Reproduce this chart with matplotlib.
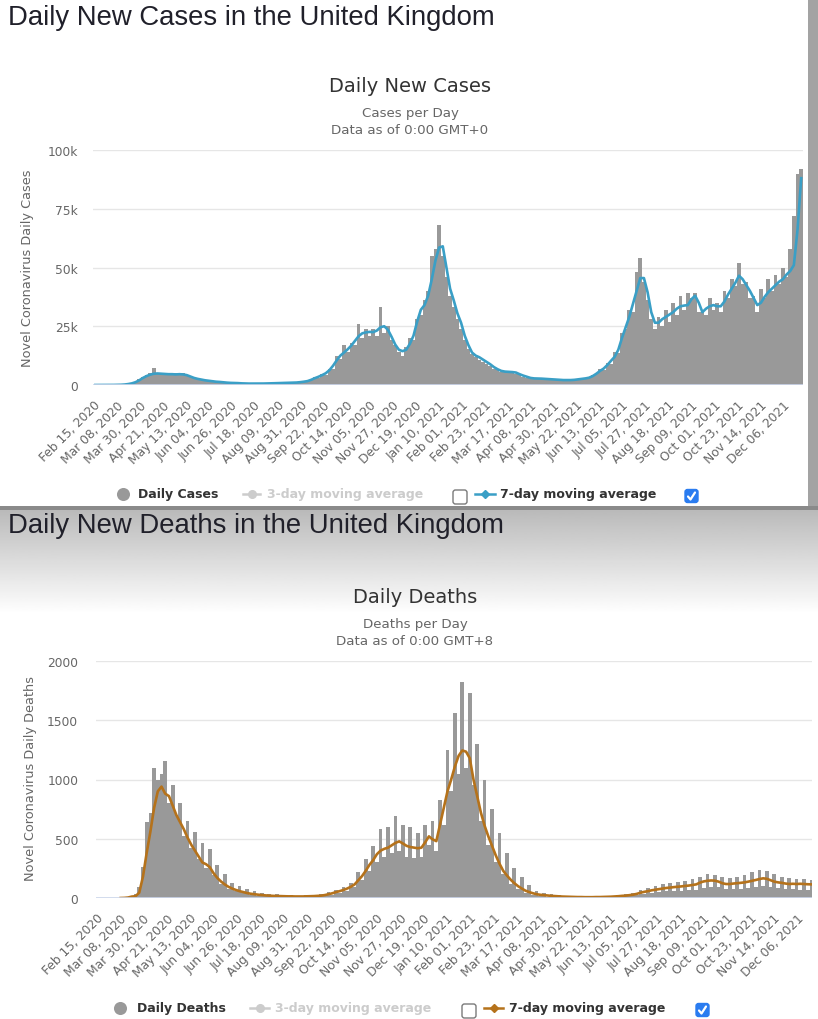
import numpy as np
import pandas as pd
import matplotlib
matplotlib.use("Agg")
import matplotlib.pyplot as plt
from matplotlib.patches import FancyBboxPatch, Rectangle

# ---- data (one value per half-week) ----
cases_start = "2020-02-15"
# daily new cases (thousands), half-week samples
daily_cases = [
    0, 0, 0, 0.01, 0.02, 0.04, 0.06, 0.12, 0.25, 0.5,
    0.8, 1.4, 2.4, 3.3, 4.2, 4.9, 7.4, 5.0, 5.3, 4.5,
    5.0, 4.3, 4.9, 4.2, 4.9, 4.4, 3.5, 2.9, 2.8, 2.2,
    2.1, 1.7, 1.7, 1.3, 1.4, 1.05, 1.1, 0.8, 0.95, 0.7,
    0.8, 0.6, 0.7, 0.55, 0.7, 0.55, 0.7, 0.6, 0.8, 0.7,
    0.9, 0.8, 1.0, 0.9, 1.1, 1.0, 1.35, 1.3, 1.9, 2.1,
    3.2, 3.0, 4.5, 4.2, 6.9, 7.0, 12.5, 11.0, 17.0, 14.0,
    18.0, 17.0, 26.0, 20.0, 24.0, 21.0, 24.0, 21.0, 33.0, 22.0,
    25.0, 19.0, 17.0, 14.0, 12.5, 16.0, 20.0, 19.0, 28.0, 30.0,
    36.0, 40.0, 55.0, 58.0, 68.0, 55.0, 46.0, 38.0, 33.0, 28.0,
    24.0, 19.0, 15.5, 13.0, 12.0, 10.5, 10.0, 9.0, 8.0, 6.8,
    6.2, 5.5, 6.1, 5.3, 5.9, 4.6, 4.3, 3.4, 3.1, 2.6,
    2.9, 2.5, 2.8, 2.3, 2.6, 2.1, 2.3, 2.0, 2.2, 2.0,
    2.3, 2.1, 2.6, 2.4, 3.1, 2.9, 4.2, 4.7, 6.8, 6.5,
    9.3, 9.0, 14.0, 13.5, 22.0, 24.0, 32.0, 31.0, 48.0, 54.0,
    44.0, 36.0, 28.0, 24.0, 29.0, 25.0, 32.0, 27.0, 35.0, 30.0,
    38.0, 32.0, 39.0, 37.0, 39.0, 31.0, 32.0, 30.0, 37.0, 32.0,
    35.0, 31.0, 40.0, 37.0, 45.0, 42.0, 52.0, 43.0, 44.0, 37.0,
    38.0, 31.0, 41.0, 37.0, 45.0, 40.0, 47.0, 43.0, 50.0, 46.0,
    58.0, 72.0, 90.0, 92.0,
]
# 7-day moving average of cases (thousands)
cases_avg7 = [
    0, 0, 0, 0.01, 0.02, 0.03, 0.05, 0.1, 0.2, 0.4,
    0.7, 1.2, 2.0, 3.0, 3.8, 4.4, 4.8, 4.9, 4.8, 4.7,
    4.6, 4.6, 4.5, 4.6, 4.5, 4.2, 3.6, 3.0, 2.6, 2.3,
    2.0, 1.8, 1.6, 1.4, 1.3, 1.15, 1.0, 0.9, 0.85, 0.8,
    0.7, 0.65, 0.6, 0.6, 0.6, 0.6, 0.62, 0.65, 0.7, 0.75,
    0.8, 0.85, 0.9, 0.95, 1.0, 1.05, 1.2, 1.4, 1.65, 2.2,
    2.9, 3.5, 4.2, 5.0, 6.3, 8.2, 10.5, 12.5, 13.8, 15.2,
    16.8, 18.8, 20.8, 22.0, 22.4, 22.6, 22.5, 23.2, 24.6, 25.0,
    23.5, 20.5, 17.2, 15.0, 14.4, 15.0, 17.5, 21.0, 27.0, 32.0,
    34.0, 38.0, 45.0, 53.0, 58.5, 59.0, 50.0, 41.0, 36.0, 30.5,
    26.5, 21.0, 17.0, 13.8, 12.5, 11.8, 10.8, 9.8, 8.8, 7.6,
    6.7, 6.0, 5.7, 5.6, 5.5, 5.3, 4.6, 4.0, 3.5, 3.0,
    2.8, 2.75, 2.7, 2.6, 2.5, 2.4, 2.3, 2.2, 2.1, 2.1,
    2.1, 2.2, 2.4, 2.6, 2.8, 3.1, 3.8, 4.8, 6.0, 7.0,
    8.5, 10.3, 12.0, 15.0, 20.0, 24.5, 29.0, 34.5, 40.0, 45.5,
    45.5, 39.5, 31.0, 26.5, 26.5, 28.0, 29.0, 30.0, 31.0, 32.5,
    33.5, 33.8, 34.0, 36.5, 38.0, 35.0, 31.0, 32.5, 33.5, 34.0,
    33.5, 33.5, 35.5, 38.5, 41.0, 43.5, 46.5, 45.0, 42.5, 40.0,
    37.0, 34.0, 35.0, 37.5, 39.5, 41.0, 42.5, 44.0, 45.0, 47.0,
    48.5, 51.0, 66.0, 88.0,
]

deaths_start = "2020-03-07"
daily_deaths = [
    0, 2, 8, 20,
    30, 90, 260, 640, 720, 1100, 1000, 1050, 1160, 800,
    950, 700, 800, 520, 650, 420, 560, 330, 460, 250,
    410, 190, 280, 120, 200, 80, 130, 60, 100, 40,
    80, 25, 60, 18, 45, 14, 35, 12, 30, 10,
    25, 9, 22, 8, 20, 8, 22, 9, 28, 12,
    35, 15, 50, 25, 70, 40, 90, 60, 130, 90,
    220, 150, 330, 230, 440, 300, 580, 350, 600, 380,
    690, 400, 620, 350, 600, 340, 550, 350, 620, 450,
    650, 400, 830, 620, 1250, 900, 1560, 1050, 1820, 1100,
    1730, 950, 1300, 650, 1000, 450, 750, 300, 550, 200,
    380, 120, 250, 75, 180, 45, 110, 28, 60, 18,
    45, 12, 35, 9, 25, 7, 20, 6, 15, 5,
    14, 4, 12, 4, 14, 5, 15, 6, 18, 8,
    22, 10, 30, 14, 40, 22, 65, 30, 85, 40,
    100, 50, 120, 55, 130, 60, 135, 60, 145, 65,
    160, 70, 175, 85, 200, 95, 190, 90, 175, 75,
    165, 75, 175, 80, 190, 85, 220, 95, 240, 105,
    230, 95, 200, 85, 180, 75, 170, 75, 160, 70,
    160, 70, 150,
]
deaths_avg7 = [
    0, 1, 4, 12,
    15, 45, 180, 380, 560, 760, 900, 940, 880, 860,
    780, 700, 640, 580, 510, 450, 400, 350, 300, 285,
    260, 210, 170, 140, 115, 95, 80, 68, 58, 50,
    42, 36, 32, 28, 25, 22, 20, 18, 17, 16,
    15, 14, 14, 13, 13, 13, 14, 15, 16, 18,
    20, 25, 32, 40, 50, 58, 68, 80, 95, 115,
    150, 185, 230, 280, 320, 370, 400, 415, 425, 445,
    465, 478, 460, 440, 430, 425, 420, 425, 470, 520,
    495, 480, 620, 760, 900, 1000, 1110, 1200, 1245, 1235,
    1180, 1000, 860, 720, 610, 520, 440, 360, 290, 230,
    190, 155, 125, 100, 80, 62, 50, 40, 32, 27,
    24, 21, 18, 16, 14, 12, 11, 10, 9, 8,
    8, 7, 7, 7, 8, 8, 9, 10, 11, 13,
    15, 18, 20, 24, 28, 35, 45, 52, 58, 65,
    70, 75, 80, 85, 88, 92, 95, 98, 102, 105,
    110, 115, 130, 140, 145, 148, 146, 138, 125, 118,
    118, 122, 125, 128, 132, 138, 145, 152, 160, 166,
    162, 150, 138, 132, 128, 122, 118, 120, 118, 120,
    118, 116, 115,
]

tick_labels = [
    "Feb 15, 2020", "Mar 08, 2020", "Mar 30, 2020", "Apr 21, 2020", "May 13, 2020",
    "Jun 04, 2020", "Jun 26, 2020", "Jul 18, 2020", "Aug 09, 2020", "Aug 31, 2020",
    "Sep 22, 2020", "Oct 14, 2020", "Nov 05, 2020", "Nov 27, 2020", "Dec 19, 2020",
    "Jan 10, 2021", "Feb 01, 2021", "Feb 23, 2021", "Mar 17, 2021", "Apr 08, 2021",
    "Apr 30, 2021", "May 22, 2021", "Jun 13, 2021", "Jul 05, 2021", "Jul 27, 2021",
    "Aug 18, 2021", "Sep 09, 2021", "Oct 01, 2021", "Oct 23, 2021", "Nov 14, 2021",
    "Dec 06, 2021",
]
cases_yticks = [0, 25, 50, 75, 100]
cases_ylabels = ["0", "25k", "50k", "75k", "100k"]
deaths_yticks = [0, 500, 1000, 1500, 2000]
deaths_ylabels = ["0", "500", "1000", "1500", "2000"]

# ---- figure ----
W, H = 818, 1020
plt.rcParams["font.family"] = ["DejaVu Sans"]
fig = plt.figure(figsize=(W / 100, H / 100), dpi=100)

bg = fig.add_axes([0, 0, 1, 1], zorder=0)
bg.set_xlim(0, W)
bg.set_ylim(H, 0)
bg.axis("off")

# page backgrounds: white top panel with scroll strip, grey band, gradient header
bg.add_patch(Rectangle((808, 0), 10, 507, color="#a3a3a3", lw=0))
bg.add_patch(Rectangle((0, 507), W, 4, color="#8a8a8a", lw=0))
grad = np.linspace(0.73, 1.0, 100).reshape(-1, 1)
bg.imshow(grad, cmap="gray", vmin=0, vmax=1, aspect="auto",
          extent=[0, W, 615, 511], zorder=0.5)
bg.set_xlim(0, W)
bg.set_ylim(H, 0)

HEAD = "#20202a"
bg.text(8, 25, "Daily New Cases in the United Kingdom", fontsize=19.8,
        family="Liberation Sans", color=HEAD, va="baseline", ha="left")
bg.text(8, 533, "Daily New Deaths in the United Kingdom", fontsize=19.8,
        family="Liberation Sans", color=HEAD, va="baseline", ha="left")


def px_axes(left, top, right, bottom):
    return fig.add_axes([left / W, 1 - bottom / H, (right - left) / W, (bottom - top) / H], zorder=2)


def draw_chart(ax, start, bars, avg, color, yticks, ylabels, xend_day, ypad):
    dates = pd.date_range(start, periods=len(bars), freq="84h")
    ax.bar(dates, bars, width=3.5, align="edge", color="#999999", linewidth=0, zorder=2)
    ax.plot(dates + pd.Timedelta(hours=42), avg, color=color, lw=1.9,
            solid_joinstyle="round", zorder=3)
    t0 = pd.Timestamp(cases_start)
    ax.set_xlim(t0 - pd.Timedelta(hours=12), t0 + pd.Timedelta(days=xend_day))
    ax.set_ylim(0, yticks[-1])
    ax.set_yticks(yticks)
    ax.set_yticklabels(ylabels)
    ax.set_xticks(pd.to_datetime(tick_labels, format="%b %d, %Y"))
    ax.set_xticklabels(tick_labels, rotation=45, ha="right", va="top",
                       rotation_mode="anchor")
    ax.tick_params(axis="x", length=0, pad=9.5, labelsize=8.8, labelcolor="#666666")
    ax.tick_params(axis="y", length=0, pad=ypad, labelsize=8.8, labelcolor="#666666")
    ax.grid(axis="y", color="#e6e6e6", lw=1)
    ax.set_axisbelow(True)
    ax.axhline(0, color="#ccd6eb", lw=1.2, zorder=4)
    for s in ax.spines.values():
        s.set_visible(False)
    ax.patch.set_alpha(0)


ax1 = px_axes(93, 151, 803, 386)
draw_chart(ax1, cases_start, daily_cases, cases_avg7, "#3a9fc6",
           cases_yticks, cases_ylabels, 679, 10.8)
ax2 = px_axes(96, 662, 812, 899)
draw_chart(ax2, deaths_start, daily_deaths, deaths_avg7, "#b5721b",
           deaths_yticks, deaths_ylabels, 674.3, 12.8)

# chart titles / subtitles / axis titles
bg.text(410, 92, "Daily New Cases", fontsize=14, color="#333333", ha="center", va="baseline")
bg.text(410, 117, "Cases per Day", fontsize=9.6, color="#666666", ha="center", va="baseline")
bg.text(410, 134, "Data as of 0:00 GMT+0", fontsize=9.6, color="#666666", ha="center", va="baseline")
bg.text(28, 268, "Novel Coronavirus Daily Cases", fontsize=9.3, color="#666666",
        rotation=90, ha="center", va="center")

bg.text(415, 603, "Daily Deaths", fontsize=14, color="#333333", ha="center", va="baseline")
bg.text(415, 628, "Deaths per Day", fontsize=9.6, color="#666666", ha="center", va="baseline")
bg.text(415, 645, "Data as of 0:00 GMT+8", fontsize=9.6, color="#666666", ha="center", va="baseline")
bg.text(31, 779, "Novel Coronavirus Daily Deaths", fontsize=9.3, color="#666666",
        rotation=90, ha="center", va="center")


# legends
def checkbox(x, y, checked):
    if checked:
        bg.add_patch(FancyBboxPatch((x, y - 6.5), 13, 13, boxstyle="round,pad=0,rounding_size=2.5",
                                    fc="#2a7cf0", ec="#2a7cf0", lw=1, zorder=3))
        bg.plot([x + 3, x + 5.5, x + 10], [y + 0.5, y + 3.5, y - 3.5], color="white",
                lw=1.6, solid_capstyle="round", zorder=4)
    else:
        bg.add_patch(FancyBboxPatch((x, y - 7), 14, 14, boxstyle="round,pad=0,rounding_size=2.5",
                                    fc="white", ec="#7a7a7a", lw=1, zorder=3))


def legend(y, first, color, xs):
    xc, xt1, l3, xt3, xb1, l7, xt7, xb2 = xs
    bg.plot([xc], [y], "o", ms=9.4, color="#999999", mew=0, zorder=3)
    bg.text(xt1, y, first, fontsize=9, fontweight="bold", color="#333333", va="center", ha="left")
    bg.plot(l3, [y, y], color="#cccccc", lw=1.8, zorder=3)
    bg.plot([sum(l3) / 2], [y], "o", ms=5.5, color="#cccccc", zorder=3)
    bg.text(xt3, y, "3-day moving average", fontsize=9, fontweight="bold", color="#cccccc",
            va="center", ha="left")
    checkbox(xb1, y + 3, False)
    bg.plot(l7, [y, y], color=color, lw=1.8, zorder=3)
    bg.plot([sum(l7) / 2], [y], "D", ms=4.5, color=color, zorder=3)
    bg.text(xt7, y, "7-day moving average", fontsize=9, fontweight="bold", color="#333333",
            va="center", ha="left")
    checkbox(xb2, y + 2, True)


legend(495, "Daily Cases", "#3a9fc6", (123, 138, [243, 260], 267, 453, [475, 495], 500, 685))
legend(1009, "Daily Deaths", "#b5721b", (120, 137, [250, 269], 275, 462, [484, 503], 509, 696))

fig.savefig("out.png", dpi=100)
